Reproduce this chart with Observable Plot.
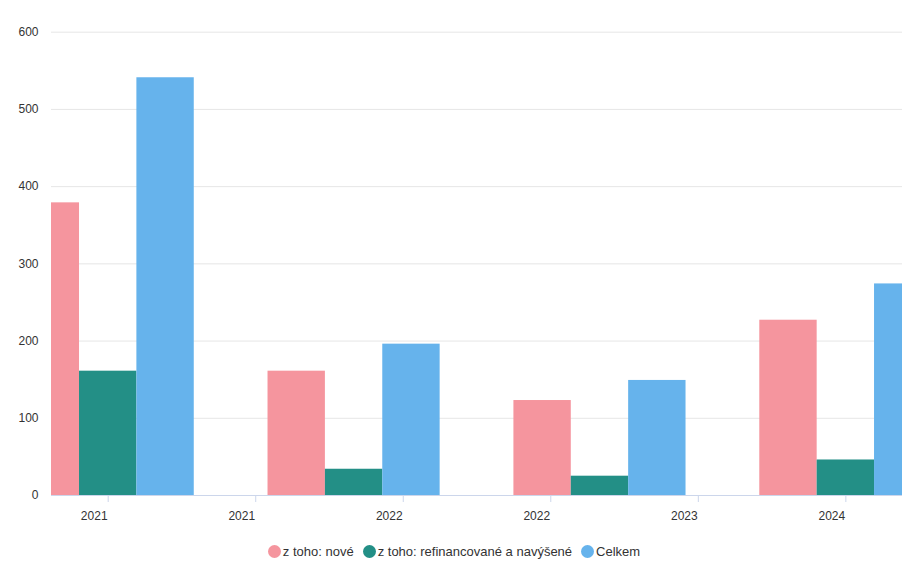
<!DOCTYPE html>
<html>
<head>
<meta charset="utf-8">
<script src="https://cdn.jsdelivr.net/npm/d3@7"></script>
<script src="https://cdn.jsdelivr.net/npm/@observablehq/plot@0.6"></script>
<style>
  html, body { margin: 0; padding: 0; background: #fff; }
  body { width: 908px; height: 564px; overflow: hidden; font-family: "Liberation Sans", Arial, sans-serif; }
  #legend { display: flex; justify-content: center; align-items: center; margin-top: 11px; height: 20px; font-size: 13px; color: #333; }
  .item { display: flex; align-items: center; margin: 0 4.5px; }
  .sw { width: 13px; height: 13px; border-radius: 50%; margin-right: 2px; }
</style>
</head>
<body>
<div id="chart"></div>
<div id="legend"></div>
<script>
const years = [2021, 2022, 2023, 2024];
const series = ["z toho: nové", "z toho: refinancované a navýšené", "Celkem"];
const nove = [379, 161, 123, 227];
const refin = [161, 34, 25, 46];
const celkem = [541, 196, 149, 274];
const colors = ["#f5959e", "#238f86", "#66b3ec"];
const xTicks = [2021, 2021.6, 2022.2, 2022.8, 2023.4, 2024];
const xTickLabels = ["2021", "2021", "2022", "2022", "2023", "2024"];
const yTicks = [0, 100, 200, 300, 400, 500, 600];

const values = [nove, refin, celkem];
const bw = 0.7 / 3;
const rows = [];
series.forEach((s, i) => {
  years.forEach((yr, j) => {
    rows.push({series: s, year: yr, value: values[i][j], x1: yr + (i - 1.5) * bw, x2: yr + (i - 0.5) * bw});
  });
});

const chart = Plot.plot({
  width: 908,
  height: 530,
  marginLeft: 51,
  marginRight: 6,
  marginTop: 31.7,
  marginBottom: 35,
  style: {fontFamily: "'Liberation Sans', Arial, sans-serif", fontSize: "12px", color: "#333", background: "#fff"},
  x: {type: "linear", domain: [2020.7694, 2024.2304], axis: null},
  y: {domain: [0, 600], axis: null},
  color: {domain: series, range: colors},
  marks: [
    Plot.gridY(yTicks, {stroke: "#e6e6e6", strokeOpacity: 1}),
    Plot.rectY(rows, {x1: "x1", x2: "x2", y: "value", fill: "series", clip: true}),
    Plot.ruleY([0], {stroke: "#ccd6eb"}),
    Plot.axisY({ticks: yTicks, tickSize: 0, tickPadding: 13, label: null, fill: "#333"}),
    Plot.axisX({ticks: xTicks, tickSize: 7, stroke: "#ccd6eb", tickFormat: () => "", label: null}),
    Plot.text(xTicks, {x: d => d, text: (d, i) => xTickLabels[i], frameAnchor: "bottom", dy: 21, dx: -14, lineAnchor: "middle", fill: "#333", fontSize: 12})
  ]
});
document.getElementById("chart").appendChild(chart);

const legend = document.getElementById("legend");
series.forEach((s, i) => {
  const it = document.createElement("div");
  it.className = "item";
  const sw = document.createElement("span");
  sw.className = "sw";
  sw.style.background = colors[i];
  const t = document.createElement("span");
  t.textContent = s;
  it.appendChild(sw);
  it.appendChild(t);
  legend.appendChild(it);
});
</script>
</body>
</html>
